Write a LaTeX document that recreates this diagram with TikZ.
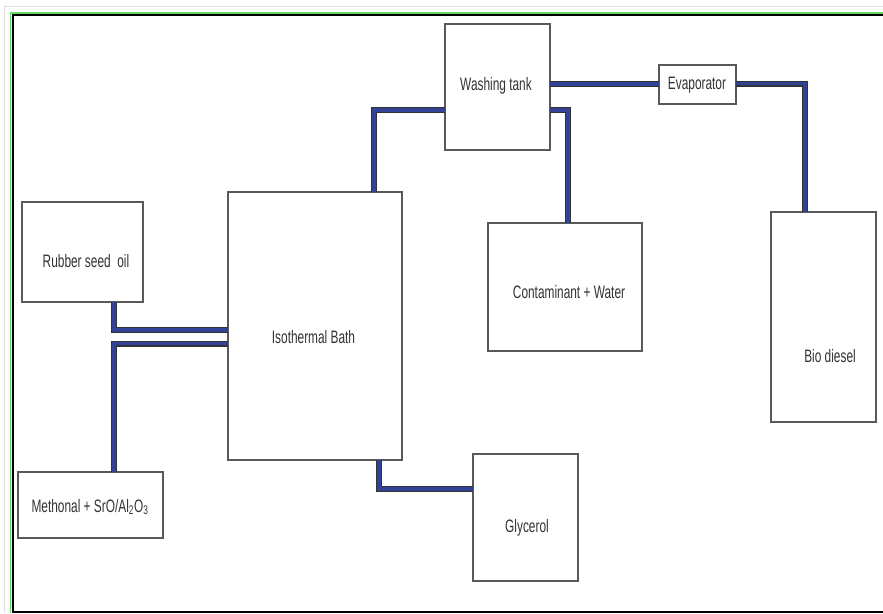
\documentclass[tikz,border=0pt]{standalone}
\usepackage{fontspec}
\setmainfont[FakeStretch=0.66]{Liberation Sans}
\usetikzlibrary{fit}
\definecolor{pipeblue}{RGB}{50,66,150}
\begin{document}
\begin{tikzpicture}[x=1pt,y=-1pt,
  box/.style={draw=black!65, line width=1.3pt, fill=white, inner sep=0pt, outer sep=0pt},
  lbl/.style={font=\fontsize{18}{21}\selectfont, inner sep=0pt, text=black!80},
  pipe/.style={draw=black!80, line width=1.2pt, double=pipeblue, double distance=3.6pt, line join=miter}]
\useasboundingbox (0,0) rectangle (883,613);
% frame
\draw[black!12, line width=1pt] (4,613) -- (4,6) -- (883,6);
\draw[green!75!black!60!white, line width=1.2pt] (10.6,613) -- (10.6,13) -- (883,13);
\draw[black, line width=2.2pt] (12.6,613) -- (12.6,14.6) -- (883,14.6);
\draw[black, line width=2.6pt] (12,612) -- (883,612);
% boxes
\node[box, fit={(22,202) (143,302)}] (oil) {};
\node[box, fit={(18,472) (163,538)}] (meth) {};
\node[box, fit={(228,192) (402,460)}] (iso) {};
\node[box, fit={(445,24) (550,150)}] (wash) {};
\node[box, fit={(659,65) (736,104)}] (evap) {};
\node[box, fit={(488,223) (642,351)}] (cont) {};
\node[box, fit={(771,212) (876,422)}] (bio) {};
\node[box, fit={(473,454) (578,581)}] (gly) {};
% labels
\node[lbl] (toil) at (86,261) {Rubber seed~ oil};
\node[lbl] (tmeth) at (90,507) {Methonal + SrO/Al\textsubscript{2}O\textsubscript{3}};
\node[lbl] (tiso) at (313.5,337) {Isothermal Bath};
\node[lbl] (twash) at (496,86) {Washing tank};
\node[lbl] (tevap) at (697,85) {Evaporator};
\node[lbl] (tcont) at (569,292) {Contaminant + Water};
\node[lbl] (tbio) at (830,356) {Bio diesel};
\node[lbl] (tgly) at (527,528) {Glycerol};
% pipes
\draw[pipe] (oil.south -| 114,0) |- (iso.west |- 0,330);
\draw[pipe] (meth.north -| 114,0) |- (iso.west |- 0,343.5);
\draw[pipe] (iso.north -| 374,0) |- (wash.west |- 0,110);
\draw[pipe] (wash.east |- 0,110) -| (cont.north -| 568,0);
\draw[pipe] (wash.east |- 0,84) -- (evap.west |- 0,84);
\draw[pipe] (evap.east |- 0,83.5) -| (bio.north -| 805,0);
\draw[pipe] (iso.south -| 379,0) |- (gly.west |- 0,489);
\end{tikzpicture}
\end{document}
